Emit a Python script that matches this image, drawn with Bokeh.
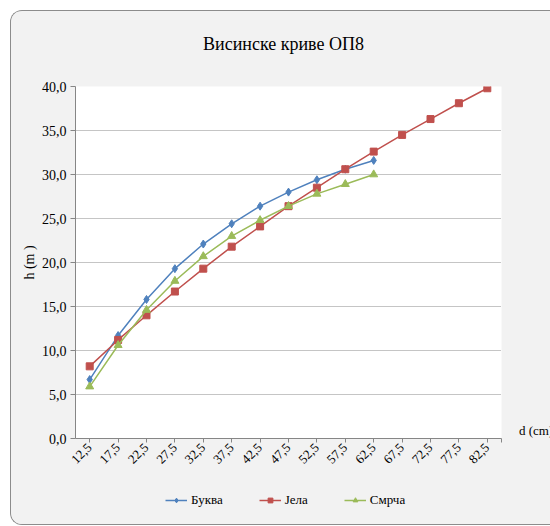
from bokeh.plotting import figure
from bokeh.layouts import column
from bokeh.models import (FixedTicker, CustomJSTickFormatter, Legend, LegendItem, Range1d, Label)
from bokeh.embed import file_html
from bokeh.resources import INLINE
import math

# ---- data ----
d_cm = [12.5, 17.5, 22.5, 27.5, 32.5, 37.5, 42.5, 47.5, 52.5, 57.5, 62.5, 67.5, 72.5, 77.5, 82.5]
bukva = [6.7, 11.7, 15.8, 19.3, 22.1, 24.4, 26.4, 28.0, 29.4, 30.6, 31.6]
jela = [8.2, 11.2, 14.0, 16.7, 19.3, 21.8, 24.1, 26.4, 28.5, 30.6, 32.6, 34.5, 36.3, 38.1, 39.8]
smrca = [5.9, 10.6, 14.6, 17.9, 20.7, 23.0, 24.8, 26.4, 27.8, 28.9, 30.0]
y_ticks = [0, 5, 10, 15, 20, 25, 30, 35, 40]
series_names = ["Буква", "Јела", "Смрча"]
title_text = "Висинске криве ОП8"
x_title = "d (cm)"
y_title = "h (m )"

FONT = "'Liberation Serif', 'Times New Roman', serif"
BLUE, RED, GREEN = "#4f81bd", "#c0504d", "#9bbb59"
BG = "#f2f2f2"
W = 538


def strip(h):
    f = figure(frame_width=W, frame_height=h, output_backend="svg", toolbar_location=None,
               x_range=Range1d(0, W), y_range=Range1d(0, h),
               x_axis_type=None, y_axis_type=None,
               min_border_left=0, min_border_right=0, min_border_top=0, min_border_bottom=0,
               border_fill_color=BG, background_fill_color=BG)
    f.outline_line_color = None
    f.grid.visible = False
    f.title.visible = False
    return f


# ---- header with title ----
hdr = strip(44)
hdr.add_layout(Label(x=208, y=12, x_units="screen", y_units="screen", text=title_text,
                     text_align="center", text_baseline="middle",
                     text_font=FONT, text_font_size="18px", text_color="black"))

# ---- main chart ----
p = figure(frame_width=426, frame_height=352, output_backend="svg", toolbar_location=None,
           x_range=Range1d(10, 85), y_range=Range1d(0, 40),
           min_border_left=64, min_border_right=48, min_border_top=31, min_border_bottom=46,
           border_fill_color=BG, background_fill_color="white")
p.outline_line_color = None

fmt = CustomJSTickFormatter(code="return tick.toFixed(1).replace('.', ',');")

p.xaxis.ticker = FixedTicker(ticks=d_cm, minor_ticks=[85])
p.xaxis.formatter = fmt
p.xaxis.major_label_orientation = math.pi / 4
p.xaxis.major_tick_in = 0
p.xaxis.major_tick_out = 4
p.xaxis.minor_tick_in = 0
p.xaxis.minor_tick_out = 4
p.xaxis.minor_tick_line_color = "#868686"
p.xaxis.major_label_text_font = FONT
p.xaxis.major_label_text_font_size = "13px"
p.xaxis.major_label_text_color = "black"
p.xaxis.axis_line_color = "#868686"
p.xaxis.major_tick_line_color = "#868686"
p.xaxis.major_label_standoff = 3

p.yaxis.ticker = FixedTicker(ticks=y_ticks)
p.yaxis.formatter = fmt
p.yaxis.major_tick_in = 0
p.yaxis.major_tick_out = 5
p.yaxis.minor_tick_line_color = None
p.yaxis.axis_line_color = "#868686"
p.yaxis.major_tick_line_color = "#868686"
p.yaxis.major_label_text_font = FONT
p.yaxis.major_label_text_font_size = "14px"
p.yaxis.major_label_text_color = "black"
p.yaxis.major_label_standoff = 4
p.yaxis.axis_label = y_title
p.yaxis.axis_label_text_font = FONT
p.yaxis.axis_label_text_font_size = "14px"
p.yaxis.axis_label_text_font_style = "normal"
p.yaxis.axis_label_text_color = "black"
p.yaxis.axis_label_standoff = 2

p.xgrid.grid_line_color = None
p.ygrid.ticker = FixedTicker(ticks=y_ticks[1:])
p.ygrid.grid_line_color = "#8a8a8a"
p.ygrid.grid_line_dash = "1 1"
p.ygrid.grid_line_width = 1

n_b, n_s = len(bukva), len(smrca)
lb = p.line(d_cm[:n_b], bukva, line_color=BLUE, line_width=1.5)
p.scatter(d_cm[:n_b], bukva, marker="diamond", size=8, fill_color=BLUE, line_color=BLUE)
p.line(d_cm, jela, line_color=RED, line_width=1.5)
p.scatter(d_cm, jela, marker="square", size=7, fill_color=RED, line_color=RED)
p.line(d_cm[:n_s], smrca, line_color=GREEN, line_width=1.5)
p.scatter(d_cm[:n_s], smrca, marker="triangle", size=8, fill_color=GREEN, line_color=GREEN)

xlab = Legend(items=[LegendItem(label=x_title, renderers=[lb])],
              location=(18, -1), border_line_color=None, background_fill_alpha=0,
              label_text_font=FONT, label_text_font_size="13px", label_text_color="black",
              glyph_width=0, glyph_height=12, label_standoff=0, padding=0, margin=0)
p.add_layout(xlab, "right")

# ---- legend strip (proxy renderers, hidden, only for the legend glyphs) ----
leg = strip(40)
series = [bukva, jela, smrca]
styles = [(BLUE, "diamond", 8), (RED, "square", 7), (GREEN, "triangle", 8)]
items = []
for name, vals, (col, mk, sz) in zip(series_names, series, styles):
    r1 = leg.line(d_cm[:2], vals[:2], line_color=col, line_width=1.5, visible=False)
    r2 = leg.scatter(d_cm[:1], vals[:1], marker=mk, size=sz, fill_color=col, line_color=col,
                     visible=False)
    items.append(LegendItem(label=name, renderers=[r1, r2]))
legend = Legend(items=items, orientation="horizontal", location=(154, 16),
                border_line_color=None, background_fill_alpha=0,
                label_text_font=FONT, label_text_font_size="13px", label_text_color="black",
                glyph_width=22, glyph_height=12, label_standoff=4, spacing=36,
                padding=0, margin=0, inactive_fill_alpha=0)
leg.add_layout(legend, "center")

lay = column(hdr, p, leg, spacing=0)
lay.styles = {"margin-left": "10px", "margin-top": "10px",
              "border-left": "1px solid #8c8c8c", "border-top": "1px solid #8c8c8c",
              "border-bottom": "1px solid #8c8c8c",
              "border-top-left-radius": "12px", "border-bottom-left-radius": "12px",
              "overflow": "hidden", "background-color": BG}

open("out.html", "w").write(file_html(lay, INLINE))
